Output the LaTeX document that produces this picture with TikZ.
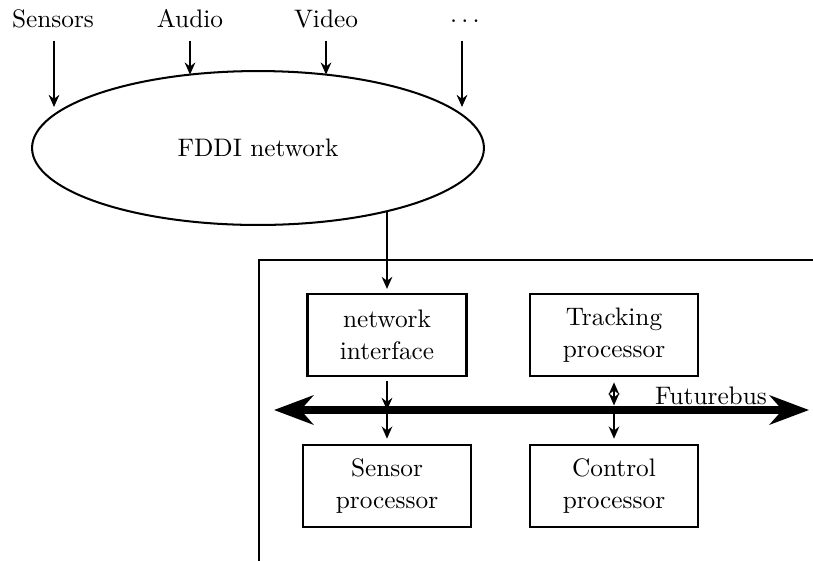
\documentclass[tikz,border=0pt]{standalone}
\usetikzlibrary{arrows.meta,shapes.geometric}
\begin{document}
\begin{tikzpicture}[x=0.395pt,y=-0.395pt,
    line width=0.8pt,
    every node/.style={font=\fontsize{10}{12.6}\selectfont},
    tip/.tip={Stealth[length=4.8pt,width=4.2pt,inset=1.6pt]},
    conn/.style={-tip},
    lbl/.style={inner sep=0pt,text depth=0pt,anchor=base},
    unit/.style={draw,rectangle,inner sep=0pt,align=center,
                 minimum width=66.5pt,minimum height=32.6pt},
    bus/.style={line width=3.1pt,
                {Stealth[length=15.5pt,width=11.5pt,inset=5pt]}-{Stealth[length=15.5pt,width=11.5pt,inset=5pt]}}]
  \clip (0,0) rectangle (813,560);

  % input sources
  \node[lbl] (sensors) at (53,27) {Sensors};
  \node[lbl] (audio)   at (190,27) {Audio};
  \node[lbl] (video)   at (326,27) {Video};
  \node[lbl] (more)    at (465,27) {$\cdots$};

  % the FDDI ring
  \node[draw,ellipse,inner sep=0pt,minimum width=178.5pt,minimum height=60.8pt]
    (fddi) at (258,148) {FDDI network};

  \coordinate (sensorsEnd) at (54,107);
  \coordinate (audioEnd)   at (190,74.6);
  \coordinate (videoEnd)   at (326,74.6);
  \coordinate (moreEnd)    at (462,107);
  \draw[conn,shorten <=5pt] (sensors.south -| sensorsEnd) -- (sensorsEnd);
  \draw[conn,shorten <=5pt] (audio.south) -- (audioEnd);
  \draw[conn,shorten <=5pt] (video.south) -- (videoEnd);
  \draw[conn,shorten <=5pt] (more.south -| moreEnd) -- (moreEnd);

  % processing cabinet
  \draw[line width=0.7pt] (259,260) rectangle (840,600);

  \node[unit,minimum width=62.8pt] (ni) at (387,335) {network\\interface};
  \node[unit] (tp) at (614,335) {Tracking\\processor};
  \node[unit] (sp) at (387,486) {Sensor\\processor};
  \node[unit] (cp) at (614,486) {Control\\processor};

  \draw[conn,shorten >=1.5pt] (ni.north |- fddi.-26.2) -- (ni.north);

  % Futurebus backplane
  \coordinate (busL) at (274,410);
  \coordinate (busR) at (809,410);
  \draw[bus] (busL) -- (busR);
  \node[lbl] (fb) at (711,404) {Futurebus};

  \draw[conn,shorten <=1.6pt] (ni.south) -- (ni |- busL);
  \draw[conn,shorten >=2pt] (ni |- busL) -- (sp.north);
  \draw[tip-tip,shorten <=2pt,shorten >=1.8pt] (tp.south) -- (tp |- busL);
  \draw[conn,shorten >=2pt] (tp |- busL) -- (cp.north);
\end{tikzpicture}
\end{document}
